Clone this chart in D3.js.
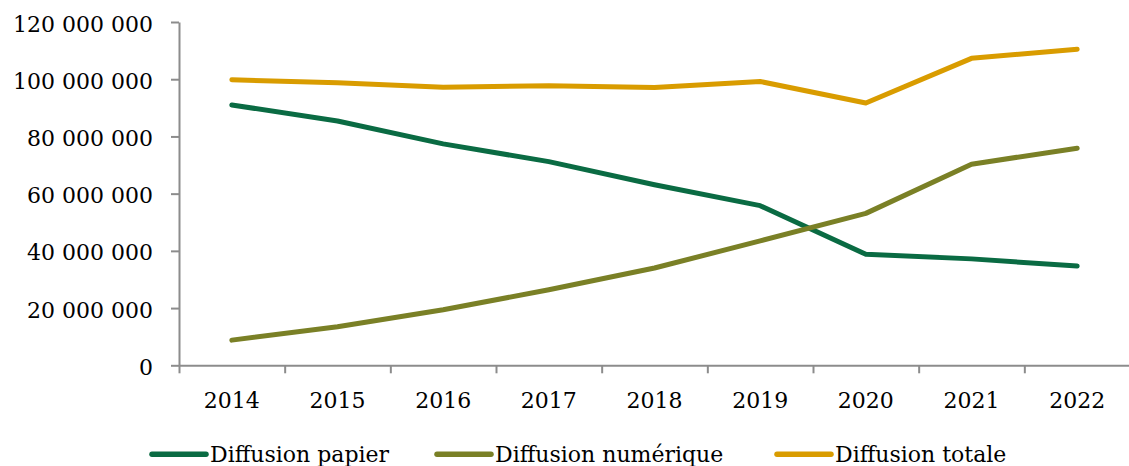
<!DOCTYPE html>
<html>
<head>
<meta charset="utf-8">
<script src="https://cdn.jsdelivr.net/npm/d3@7"></script>
<style>
  html, body { margin: 0; padding: 0; background: #fff; }
  svg { display: block; }
  text { font-family: "DejaVu Serif", serif; font-size: 22px; fill: #000; }
</style>
</head>
<body>
<svg id="chart" width="1129" height="466"></svg>
<script>
const years = ["2014","2015","2016","2017","2018","2019","2020","2021","2022"];
const papier = [91.0e6, 85.4e6, 77.4e6, 71.2e6, 63.1e6, 55.8e6, 38.8e6, 37.2e6, 34.7e6];
const numerique = [8.8e6, 13.5e6, 19.4e6, 26.4e6, 34.0e6, 43.5e6, 53.1e6, 70.3e6, 75.9e6];
const totale = [99.8e6, 98.8e6, 97.2e6, 97.7e6, 97.1e6, 99.2e6, 91.7e6, 107.3e6, 110.5e6];
const yTicks = [0, 20e6, 40e6, 60e6, 80e6, 100e6, 120e6];
const seriesNames = ["Diffusion papier", "Diffusion numérique", "Diffusion totale"];
const seriesColors = ["#0a6b43", "#7a8026", "#d99c00"];

(function () {
const svg = d3.select("#chart");
const mLeft = 179, mRight = 1130, mTop = 22, mBottom = 365.3;

const x = d3.scaleBand().domain(years).range([mLeft, mRight]).padding(0);
const y = d3.scaleLinear().domain([0, 120e6]).range([mBottom, mTop]);
const fmt = d3.formatLocale({decimal: ",", thousands: " ", grouping: [3], currency: ["", ""]}).format(",");

// y axis
const gy = svg.append("g").attr("transform", `translate(${mLeft},0)`)
  .call(d3.axisLeft(y).tickValues(yTicks).tickFormat(fmt).tickSize(8).tickSizeOuter(0).tickPadding(18));
gy.select(".domain").attr("stroke", "#8c8c8c").attr("stroke-width", 2);
gy.selectAll(".tick line").attr("stroke", "#8c8c8c").attr("stroke-width", 2);
gy.selectAll(".tick text").attr("dy", "0.41em").style("font-family", "DejaVu Serif").style("font-size", "22px").attr("fill", "#000");

// x axis boundaries (ticks between categories)
const xb = d3.scaleLinear().domain([0, years.length]).range([mLeft, mRight]);
const gxb = svg.append("g").attr("transform", `translate(0,${mBottom})`)
  .call(d3.axisBottom(xb).tickValues(d3.range(years.length + 1)).tickFormat("").tickSize(8).tickSizeOuter(0));
gxb.select(".domain").attr("stroke", "#8c8c8c").attr("stroke-width", 2);
gxb.selectAll(".tick line").attr("stroke", "#8c8c8c").attr("stroke-width", 2);

// x labels
const gx = svg.append("g").attr("transform", `translate(0,${mBottom})`)
  .call(d3.axisBottom(x).tickSize(0));
gx.select(".domain").remove();
gx.selectAll(".tick text").attr("y", 42.7).attr("dy", 0).style("font-family", "DejaVu Serif").style("font-size", "22px").attr("fill", "#000");

// lines
const data = [papier, numerique, totale];
const line = d3.line().x((d, i) => x(years[i]) + x.bandwidth() / 2).y(d => y(d));
const order = [2, 0, 1];
order.forEach(k => {
  svg.append("path").datum(data[k])
    .attr("d", line)
    .attr("fill", "none")
    .attr("stroke", seriesColors[k])
    .attr("stroke-width", 5)
    .attr("stroke-linecap", "round")
    .attr("stroke-linejoin", "round");
});

// legend
const legendX = [152, 437, 777];
const legendY = 454.3;
seriesNames.forEach((name, k) => {
  const g = svg.append("g").attr("transform", `translate(${legendX[k]},${legendY})`);
  g.append("line").attr("x1", 0).attr("x2", 54).attr("y1", 0).attr("y2", 0)
    .attr("stroke", seriesColors[k]).attr("stroke-width", 5.5).attr("stroke-linecap", "round");
  g.append("text").attr("x", 58).attr("y", 7.2).text(name);
});
})();
</script>
</body>
</html>
